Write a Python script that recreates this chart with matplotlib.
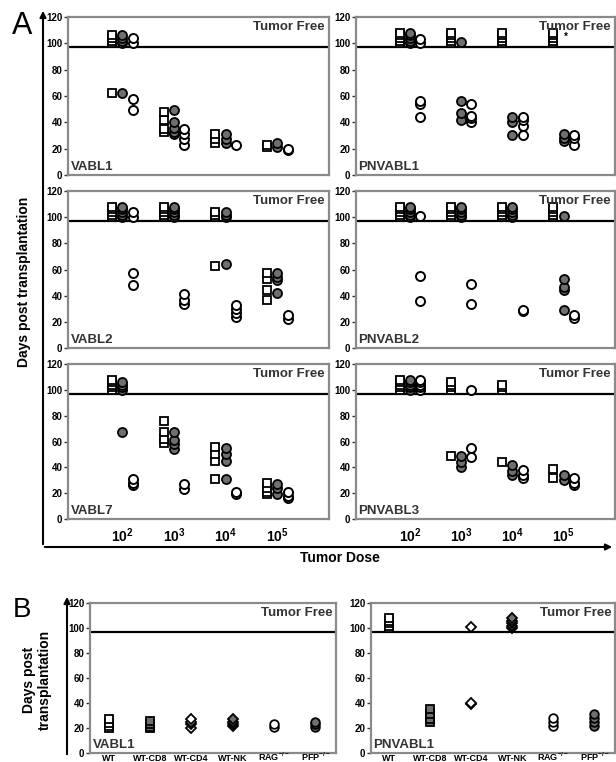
import matplotlib
matplotlib.use('Agg')
import matplotlib.pyplot as plt

plt.rcParams['font.family'] = ['Liberation Sans', 'DejaVu Sans']
plt.rcParams['font.weight'] = 'bold'
plt.rcParams['mathtext.fontset'] = 'custom'
plt.rcParams['mathtext.rm'] = 'Liberation Sans:bold'
plt.rcParams['mathtext.bf'] = 'Liberation Sans:bold'
plt.rcParams['mathtext.it'] = 'Liberation Sans:bold'

# Panel A: dosis de tumor y dias hasta la muerte (100+ = libre de tumor)
doses = [r'$10^{2}$', r'$10^{3}$', r'$10^{4}$', r'$10^{5}$']

vabl1_sq = [[100, 102, 104, 106, 62], [48, 42, 35, 33], [31, 27, 24], [23, 21]]
vabl1_gray = [[100, 102, 104, 106, 62], [49, 40, 36, 33, 31], [31, 27, 24], [24, 21]]
vabl1_open = [[100, 104, 58, 49], [35, 31, 27, 23], [23], [20, 19]]

pnvabl1_sq = [[100, 102, 104, 106, 108], [100, 102, 104, 106, 108],
              [100, 102, 104, 106, 108], [100, 102, 104, 106, 108]]
pnvabl1_gray = [[100, 102, 104, 106, 108], [101, 56, 47, 42], [44, 40, 30], [31, 28, 26]]
pnvabl1_open = [[100, 103, 56, 54, 44], [54, 45, 43, 40], [44, 42, 37, 30], [30, 28, 23]]

vabl2_sq = [[100, 102, 104, 106, 108], [100, 102, 104, 106, 108], [100, 102, 104, 63], [57, 53, 44, 37]]
vabl2_gray = [[100, 102, 104, 106, 108], [100, 102, 104, 106, 108], [100, 102, 104, 64], [57, 54, 52, 42]]
vabl2_open = [[100, 104, 57, 48], [41, 37, 34], [33, 30, 27, 24], [25, 22]]

pnvabl2_sq = [[100, 102, 104, 106, 108], [100, 102, 104, 106, 108],
              [100, 102, 104, 106, 108], [100, 102, 104, 106, 108]]
pnvabl2_gray = [[100, 102, 104, 106, 108], [100, 102, 104, 106, 108],
                [100, 102, 104, 106, 108], [101, 53, 47, 44, 29]]
pnvabl2_open = [[101, 55, 36], [49, 34], [29, 28], [25, 23]]

vabl7_sq = [[100, 102, 104, 106, 108], [76, 67, 62, 59], [56, 50, 45, 31], [28, 24, 21, 19]]
vabl7_gray = [[100, 102, 104, 106, 67], [67, 61, 58, 54], [55, 50, 45, 31], [27, 24, 19]]
vabl7_open = [[31, 28, 26], [27, 23], [21, 19], [21, 18, 16]]

pnvabl3_sq = [[100, 102, 104, 106, 108], [100, 102, 104, 106, 49], [100, 102, 104, 44], [39, 32]]
pnvabl3_gray = [[100, 102, 104, 106, 108], [49, 44, 40], [42, 37, 34], [34, 30]]
pnvabl3_open = [[100, 102, 104, 106, 108], [100, 55, 48], [38, 34, 32], [32, 28, 26]]

# Panel B: cepas receptoras
hosts = ['WT', 'WT-CD8', 'WT-CD4', 'WT-NK', r'RAG$^{-/-}$', r'PFP$^{-/-}$']
b_vabl1 = [[27, 24, 22, 20], [26, 23, 21, 20], [27, 25, 23, 20],
           [27, 25, 23, 22], [23, 21], [25, 23, 21]]
b_pnvabl1 = [[100, 102, 104, 106, 108], [35, 31, 27, 25], [101, 40, 39],
             [100, 102, 104, 106, 108], [28, 25, 22], [31, 28, 25, 22]]

GRAY = '#6f6f6f'
SPINE = '#8a8a8a'
W, H = 616, 762

fig = plt.figure(figsize=(6.16, 7.62), dpi=100)


def px_axes(x0, y0, x1, y1):
    return fig.add_axes([x0 / W, 1 - y1 / H, (x1 - x0) / W, (y1 - y0) / H])


def style_axes(ax, name):
    ax.set_ylim(0, 120)
    ax.set_yticks([0, 20, 40, 60, 80, 100, 120])
    ax.tick_params(axis='y', length=3, width=1, color='#333333', pad=1, labelsize=7)
    for s in ax.spines.values():
        s.set_color(SPINE)
        s.set_linewidth(1.6)
    ax.axhline(97, color='black', lw=1.6, zorder=1)
    ax.text(0.985, 0.975, 'Tumor Free', transform=ax.transAxes, ha='right', va='top',
            fontsize=9.5, color='#333333')
    ax.text(0.01, 0.01, name, transform=ax.transAxes, ha='left', va='bottom',
            fontsize=9.5, color='#333333')


def dose_panel(ax, name, sq, gray, op, show_x):
    for i in range(4):
        x = i + 1
        ax.plot([x - 0.2] * len(sq[i]), sorted(sq[i]), 's', ms=6.2, mfc='white',
                mec='black', mew=1.3, ls='none', zorder=3)
        ax.plot([x] * len(gray[i]), sorted(gray[i]), 'o', ms=6.5, mfc=GRAY,
                mec='black', mew=1.3, ls='none', zorder=3)
        ax.plot([x + 0.2] * len(op[i]), sorted(op[i]), 'o', ms=6.5, mfc='white',
                mec='black', mew=1.4, ls='none', zorder=3)
    ax.set_xlim(-0.05, 5.0)
    style_axes(ax, name)
    if show_x:
        ax.set_xticks([1, 2, 3, 4])
        ax.set_xticklabels(doses, fontsize=10)
        ax.tick_params(axis='x', length=0, pad=5)
    else:
        ax.set_xticks([])


rows = [(17, 175), (191, 348), (364, 519)]
left_data = [('VABL1', vabl1_sq, vabl1_gray, vabl1_open),
             ('VABL2', vabl2_sq, vabl2_gray, vabl2_open),
             ('VABL7', vabl7_sq, vabl7_gray, vabl7_open)]
right_data = [('PNVABL1', pnvabl1_sq, pnvabl1_gray, pnvabl1_open),
              ('PNVABL2', pnvabl2_sq, pnvabl2_gray, pnvabl2_open),
              ('PNVABL3', pnvabl3_sq, pnvabl3_gray, pnvabl3_open)]

for r, (y0, y1) in enumerate(rows):
    axl = px_axes(68, y0, 329, y1)
    dose_panel(axl, *left_data[r], show_x=(r == 2))
    axr = px_axes(356, y0, 615, y1)
    dose_panel(axr, *right_data[r], show_x=(r == 2))
    if r == 0:
        axr.text(4.0, 105, '*', fontsize=7, ha='left', va='center', zorder=4)

# Panel B
b_markers = [('s', 'white'), ('s', GRAY), ('D', 'white'), ('D', GRAY), ('o', 'white'), ('o', GRAY)]


def host_panel(ax, name, vals):
    for i, v in enumerate(vals):
        m, c = b_markers[i]
        ax.plot([i] * len(v), sorted(v), m, ms=6.2 if m != 'D' else 5.5, mfc=c,
                mec='black', mew=1.3, ls='none', zorder=3)
    ax.set_xlim(-0.45, 5.5)
    style_axes(ax, name)
    ax.set_xticks([])
    # etiquetas alineadas por la linea base, pegadas al borde inferior
    for i, lab in enumerate(hosts):
        ax.text(i, -0.052, lab, transform=ax.get_xaxis_transform(), ha='center',
                va='baseline', fontsize=6.5, clip_on=False)


axb1 = px_axes(90, 603, 336, 753)
host_panel(axb1, 'VABL1', b_vabl1)
axb2 = px_axes(371, 603, 615, 753)
host_panel(axb2, 'PNVABL1', b_pnvabl1)

# Flechas y etiquetas generales
arrow = dict(arrowstyle='-|>', color='black', lw=1.5, mutation_scale=9)
fig.add_artist(matplotlib.patches.FancyArrowPatch((43 / W, 1 - 547 / H), (43 / W, 1 - 8 / H),
                                                  transform=fig.transFigure, **arrow))
fig.add_artist(matplotlib.patches.FancyArrowPatch((42 / W, 1 - 547 / H), (615 / W, 1 - 547 / H),
                                                  transform=fig.transFigure, **arrow))
fig.add_artist(matplotlib.patches.FancyArrowPatch((67 / W, 1 - 757 / H), (67 / W, 1 - 594 / H),
                                                  transform=fig.transFigure, **arrow))

fig.text(22 / W, 1 - 26 / H, 'A', fontsize=22, fontweight='normal', ha='center', va='center')
fig.text(22 / W, 1 - 610 / H, 'B', fontsize=20, fontweight='normal', ha='center', va='center')
fig.text(24 / W, 1 - 282 / H, 'Days post transplantation', rotation=90, fontsize=10,
         ha='center', va='center')
fig.text(340 / W, 1 - 558 / H, 'Tumor Dose', fontsize=10, ha='center', va='center')
fig.text(37 / W, 1 - 680 / H, 'Days post\ntransplantation', rotation=90, fontsize=10,
         ha='center', va='center', linespacing=1.1)

fig.savefig('out.png', dpi=100)
